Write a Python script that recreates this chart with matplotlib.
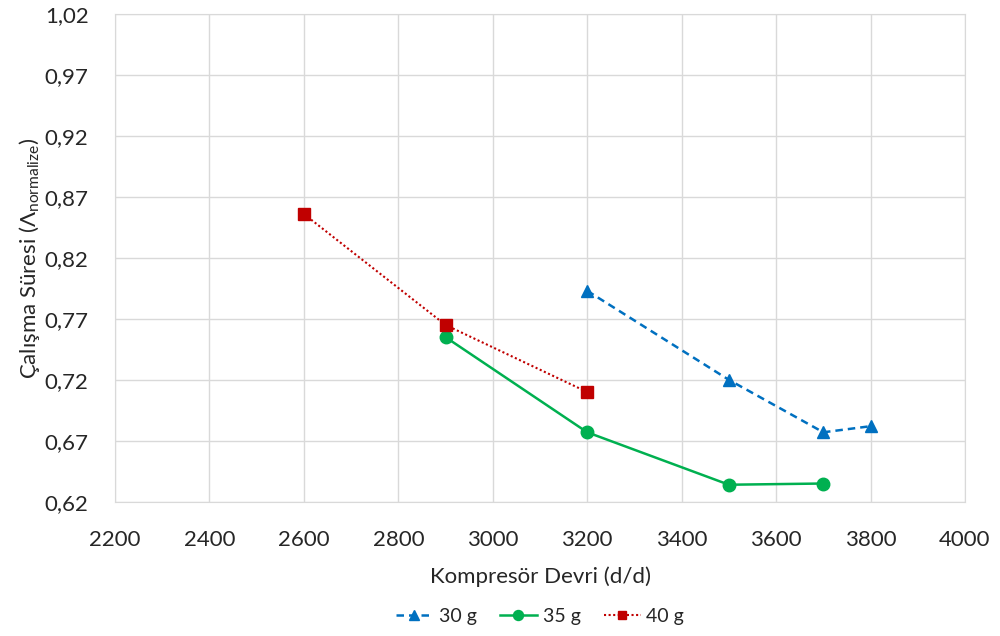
import matplotlib
matplotlib.use('Agg')
import matplotlib.pyplot as plt
from matplotlib.ticker import FuncFormatter

plt.rcParams['font.family'] = ['Lato', 'DejaVu Sans']
plt.rcParams['mathtext.default'] = 'regular'

# veriler
x_30 = [3200, 3500, 3700, 3800]
y_30 = [0.793, 0.720, 0.677, 0.682]
x_35 = [2900, 3200, 3500, 3700]
y_35 = [0.755, 0.677, 0.634, 0.635]
x_40 = [2600, 2900, 3200]
y_40 = [0.856, 0.765, 0.710]

fig = plt.figure(figsize=(10, 6.36), dpi=100)
ax = fig.add_axes([0.115, 0.211, 0.850, 0.767])

ax.plot(x_30, y_30, color='#0070C0', linestyle=(0, (3, 2)), linewidth=1.8, marker='^', markersize=9, label='30 g')
ax.plot(x_35, y_35, color='#00B050', linestyle='-', linewidth=1.8, marker='o', markersize=9, label='35 g')
ax.plot(x_40, y_40, color='#C00000', linestyle=(0, (1, 1.2)), linewidth=1.5, marker='s', markersize=8, label='40 g')

ax.set_xlim(2200, 4000)
ax.set_ylim(0.62, 1.02)
ax.set_xticks(range(2200, 4001, 200))
ax.set_yticks([0.62 + 0.05 * i for i in range(9)])
ax.yaxis.set_major_formatter(FuncFormatter(lambda v, p: f'{v:.2f}'.replace('.', ',')))
ax.grid(True, color='#D9D9D9', linewidth=1)
ax.set_axisbelow(True)
for s in ax.spines.values():
    s.set_color('#D9D9D9')
ax.tick_params(length=0, labelsize=16, colors='#262626')
ax.tick_params(axis='y', pad=19)
ax.tick_params(axis='x', pad=20)

ax.set_xlabel('Kompresör Devri (d/d)', fontsize=16, color='#262626', labelpad=12)
ax.set_ylabel('Çalışma Süresi (Λ$_{normalize}$)', fontsize=16, color='#262626', labelpad=2)

leg = ax.legend(loc='center', bbox_to_anchor=(0.5, -0.235), ncol=3, frameon=False,
                fontsize=14, handlelength=1.9, handletextpad=0.3, columnspacing=1.2,
                labelcolor='#262626', markerscale=0.8)

fig.savefig('out.png')
